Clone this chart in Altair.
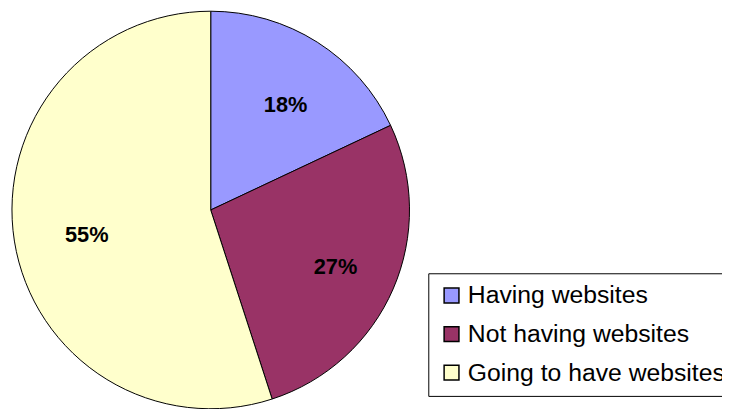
import altair as alt
import pandas as pd

categories = ["Having websites", "Not having websites", "Going to have websites"]
values = [18, 27, 55]
labels = ["18%", "27%", "55%"]
colors = ["#9999FF", "#993366", "#FFFFCC"]

df = pd.DataFrame({"category": categories, "value": values, "label": labels, "idx": [0, 1, 2]})

cx, cy, R = 205, 202, 201

base = alt.Chart(df).encode(
    theta=alt.Theta("value:Q", stack=True),
    order=alt.Order("idx:Q"),
)

pie = base.mark_arc(stroke="black", strokeWidth=1).encode(
    x=alt.value(cx), y=alt.value(cy), radius=alt.value(R),
    color=alt.Color(
        "category:N",
        scale=alt.Scale(domain=categories, range=colors),
        sort=categories,
        legend=alt.Legend(
            title=None, orient="none", legendX=425, legendY=266,
            strokeColor="black", fillColor="white", padding=10,
            symbolType="square", symbolSize=225, symbolStrokeColor="black",
            symbolStrokeWidth=1.5, symbolOpacity=1,
            labelFont="Liberation Sans", labelFontSize=25, labelColor="black",
            labelLimit=400, rowPadding=13, symbolOffset=1, labelOffset=4,
        ),
    ),
)

text = base.mark_text(font="Liberation Sans", fontSize=22, fontWeight="bold", color="black",
                      dx=5, dy=5).encode(
    x=alt.value(cx), y=alt.value(cy), radius=alt.value(132), text="label:N"
)

chart = (pie + text).properties(
    width=722, height=401, padding=0, autosize=alt.AutoSizeParams(type="none"),
    background="white",
).configure_view(stroke=None, strokeWidth=0)

chart.save("out.html", embed_options={"renderer": "svg", "actions": False})
